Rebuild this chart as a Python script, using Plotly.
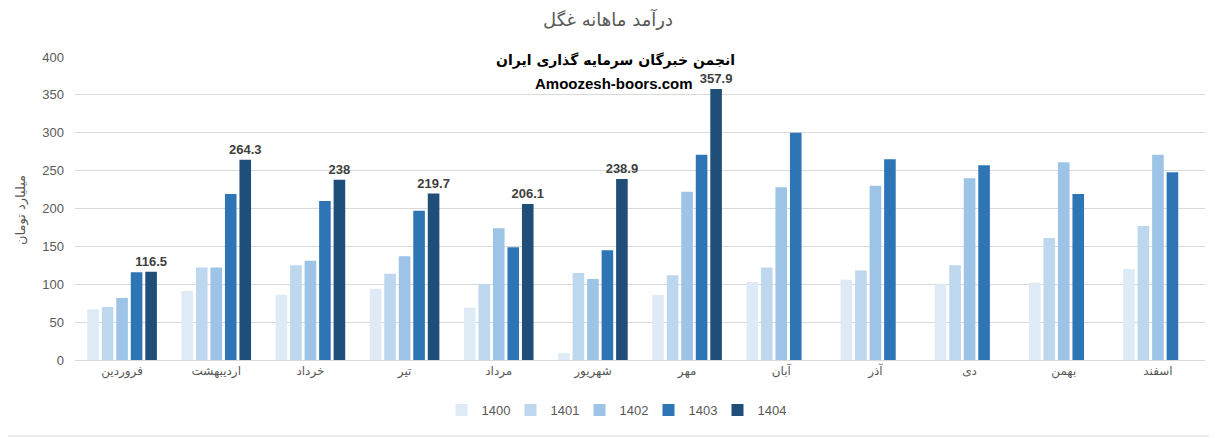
import plotly.graph_objects as go

months = ["فروردین", "اردیبهشت", "خرداد", "تیر", "مرداد", "شهریور",
          "مهر", "آبان", "آذر", "دی", "بهمن", "اسفند"]

y1400 = [67, 91, 86, 94, 69, 9, 86, 103, 106, 100, 102, 120]
y1401 = [70, 122, 125, 114, 100, 115, 112, 122, 118, 125, 161, 177]
y1402 = [82, 122, 131, 137, 174, 107, 222, 228, 230, 240, 261, 271]
y1403 = [116, 219, 210, 197, 149, 145, 271, 300, 265, 257, 219, 248]
y1404 = [116.5, 264.3, 238, 219.7, 206.1, 238.9, 357.9, None, None, None, None, None]

series = [("1400", y1400, "#DEEBF7"),
          ("1401", y1401, "#BDD7EE"),
          ("1402", y1402, "#9DC3E6"),
          ("1403", y1403, "#2E75B6"),
          ("1404", y1404, "#1F4E79")]

# page is offset by the default 8px body margin
L, T = 67, 49
PW, PH = 1130, 303

fig = go.Figure()
for name, vals, color in series:
    kw = {}
    if name == "1404":
        kw = dict(text=[("" if v is None else f"<b>{v:g}</b>") for v in vals],
                  textposition="outside",
                  textfont=dict(size=13, color="#404040", family="Liberation Sans, DejaVu Sans"),
                  constraintext="none", cliponaxis=False)
    fig.add_trace(go.Bar(name=name, x=months, y=vals, marker=dict(color=color, line=dict(width=0)), **kw))

fig.update_layout(
    width=1217, height=438,
    margin=dict(l=L, r=1217 - L - PW, t=T, b=438 - T - PH),
    paper_bgcolor="white", plot_bgcolor="white",
    barmode="group", bargap=0.23, bargroupgap=0.2,
    font=dict(family="Liberation Sans, DejaVu Sans", color="#595959", size=12),
    title=dict(text="درآمد ماهانه غگل", x=(608 - 8) / 1217, xanchor="center",
               y=1 - (20 - 8) / 438, yanchor="middle",
               font=dict(size=18, color="#595959", family="DejaVu Sans")),
    legend=dict(orientation="h", x=(614 - 75) / PW, xanchor="center", y=-(410 - 360) / PH,
                yanchor="middle", font=dict(size=13, color="#595959"), itemwidth=30,
                entrywidth=24, entrywidthmode="pixels", traceorder="normal"),
    showlegend=True,
)
fig.update_xaxes(showline=True, linecolor="#D9D9D9", linewidth=1, ticks="",
                 tickfont=dict(size=12, color="#595959", family="DejaVu Sans"), showgrid=False)
fig.update_yaxes(range=[0, 400], dtick=50, showgrid=True, gridcolor="#D9D9D9", gridwidth=1,
                 zeroline=False, tickfont=dict(size=13, color="#595959"), ticks="",
                 ticklabelstandoff=10)

fig.add_annotation(text="میلیارد تومان", textangle=-90, xref="paper", yref="paper",
                   x=(21 - 75) / PW, y=(360 - 210) / PH, xanchor="center", yanchor="middle",
                   showarrow=False, font=dict(size=13, color="#595959", family="DejaVu Sans"))
fig.add_annotation(text="<b>انجمن خبرگان سرمایه گذاری ایران</b>", xref="paper", yref="paper",
                   x=(615 - 75) / PW, y=(360 - 60) / PH, xanchor="center", yanchor="middle",
                   showarrow=False, font=dict(size=14, color="black", family="DejaVu Sans"))
fig.add_annotation(text="<b>Amoozesh-boors.com</b>", xref="paper", yref="paper",
                   x=(614 - 75) / PW, y=(360 - 83) / PH, xanchor="center", yanchor="middle",
                   showarrow=False, font=dict(size=15, color="black", family="Liberation Sans"))
fig.add_shape(type="line", xref="paper", yref="paper", x0=-0.07, x1=1.02,
              y0=(360 - 436) / PH, y1=(360 - 436) / PH, line=dict(color="#D9D9D9", width=1))

fig.write_html("out.html")
